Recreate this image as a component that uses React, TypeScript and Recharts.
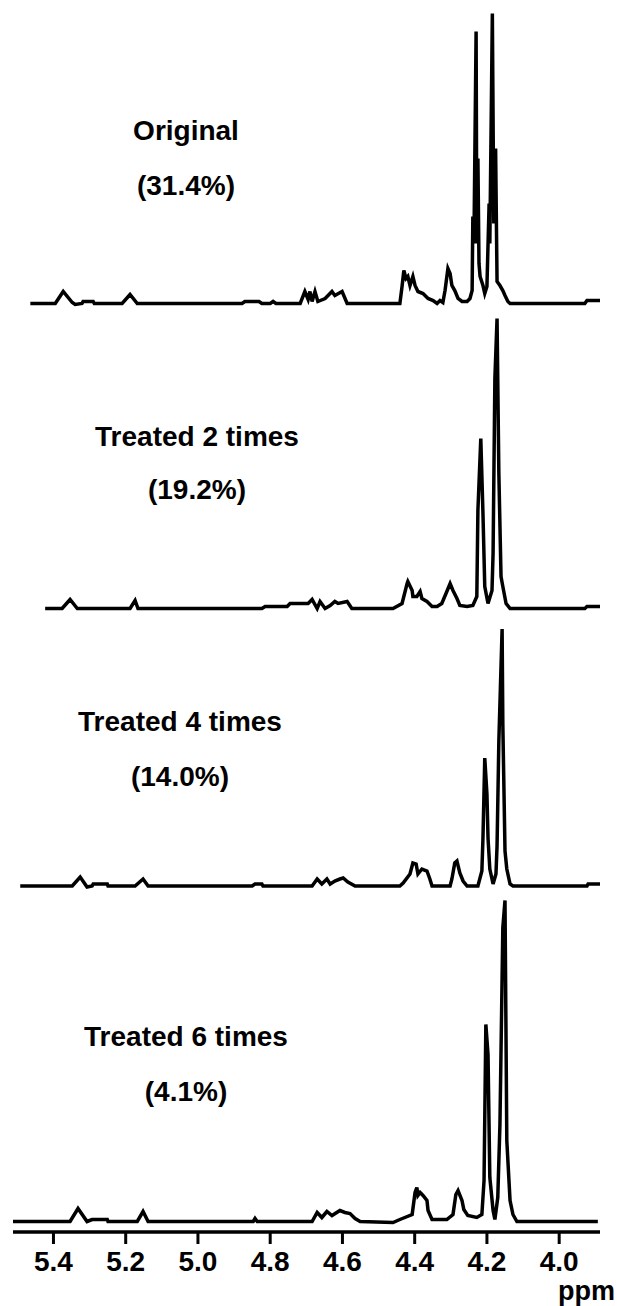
import { LineChart, Line, XAxis, YAxis } from 'recharts'

// chemical shift ticks (ppm), reversed axis like an NMR plot
const ppmTicks = [5.4, 5.2, 5.0, 4.8, 4.6, 4.4, 4.2, 4.0]

const sampleNames = ['Original', 'Treated 2 times', 'Treated 4 times', 'Treated 6 times']
const sampleShares = ['(31.4%)', '(19.2%)', '(14.0%)', '(4.1%)']

// Original
const originalPpm = [5.464, 5.395, 5.373, 5.348, 5.340, 5.321, 5.318, 5.290, 5.287, 5.210, 5.188, 5.168, 4.878, 4.870, 4.831, 4.823, 4.800, 4.792, 4.784, 4.717, 4.704, 4.695, 4.690, 4.684, 4.676, 4.668, 4.648, 4.629, 4.621, 4.601, 4.587, 4.441, 4.435, 4.430, 4.424, 4.419, 4.413, 4.405, 4.399, 4.391, 4.377, 4.363, 4.349, 4.338, 4.330, 4.322, 4.316, 4.308, 4.302, 4.297, 4.289, 4.280, 4.269, 4.255, 4.247, 4.241, 4.239, 4.236, 4.230, 4.228, 4.225, 4.222, 4.219, 4.211, 4.206, 4.200, 4.194, 4.192, 4.185, 4.181, 4.176, 4.172, 4.164, 4.156, 4.150, 4.142, 4.136, 3.929, 3.923, 3.887]
const originalInt = [0, 0, 12, 1, -1, 0, 2, 2, 0, 0, 9, 0, 0, 2, 2, 0, 0, 2, 0, 0, 12, 4, 12, 2, 12, 2, 5, 12, 8, 12, 0, 0, 17, 33, 25, 27, 18, 27, 18, 12, 10, 5, 3, 0, 3, 1, 13, 35, 30, 18, 13, 5, 2, 2, 5, 13, 87, 60, 272, 60, 145, 40, 27, 18, 10, 17, 100, 60, 290, 80, 155, 22, 18, 13, 8, 2, 0, 0, 3, 3]

// Treated 2 times
const treated2Ppm = [5.423, 5.376, 5.354, 5.334, 5.188, 5.174, 5.166, 4.823, 4.814, 4.753, 4.745, 4.695, 4.684, 4.670, 4.662, 4.648, 4.634, 4.621, 4.612, 4.587, 4.574, 4.460, 4.435, 4.421, 4.419, 4.407, 4.405, 4.394, 4.385, 4.380, 4.366, 4.352, 4.338, 4.325, 4.311, 4.302, 4.294, 4.283, 4.275, 4.255, 4.239, 4.228, 4.225, 4.217, 4.211, 4.206, 4.197, 4.186, 4.183, 4.178, 4.172, 4.167, 4.161, 4.156, 4.147, 4.136, 3.929, 3.923, 3.887]
const treated2Int = [0, 0, 9, 0, 0, 8, 0, 0, 2, 2, 5, 5, 9, 0, 7, 0, 3, 7, 5, 7, 0, 0, 5, 25, 27, 18, 12, 12, 17, 10, 7, 2, 2, 5, 17, 25, 18, 10, 3, 2, 3, 12, 98, 170, 95, 22, 5, 18, 55, 230, 290, 135, 32, 22, 5, 0, 0, 2, 2]

// Treated 4 times
const treated4Ppm = [5.492, 5.348, 5.326, 5.307, 5.293, 5.290, 5.251, 5.249, 5.174, 5.152, 5.138, 4.850, 4.842, 4.823, 4.820, 4.684, 4.670, 4.657, 4.643, 4.634, 4.621, 4.607, 4.598, 4.585, 4.565, 4.441, 4.432, 4.413, 4.405, 4.396, 4.391, 4.380, 4.366, 4.358, 4.352, 4.302, 4.297, 4.289, 4.283, 4.275, 4.266, 4.255, 4.225, 4.214, 4.211, 4.206, 4.200, 4.197, 4.192, 4.183, 4.175, 4.172, 4.167, 4.158, 4.156, 4.150, 4.145, 4.136, 4.128, 3.923, 3.920, 3.887]
const treated4Int = [0, 0, 9, -1, 0, 2, 2, 0, 0, 7, 0, 0, 2, 2, 0, 0, 7, 2, 7, 2, 5, 7, 8, 4, 0, 0, 3, 12, 23, 22, 12, 17, 15, 7, 0, 0, 7, 23, 25, 13, 5, 0, 0, 15, 48, 128, 92, 48, 17, 2, 12, 40, 145, 257, 162, 35, 17, 2, 0, 0, 2, 2]

// Treated 6 times
const treated6Ppm = [5.512, 5.354, 5.332, 5.307, 5.293, 5.251, 5.249, 5.168, 5.152, 5.138, 4.847, 4.842, 4.836, 4.684, 4.670, 4.657, 4.643, 4.629, 4.607, 4.593, 4.579, 4.565, 4.551, 4.460, 4.441, 4.407, 4.399, 4.394, 4.391, 4.385, 4.377, 4.366, 4.363, 4.352, 4.311, 4.294, 4.286, 4.280, 4.269, 4.264, 4.253, 4.228, 4.214, 4.208, 4.203, 4.197, 4.192, 4.183, 4.178, 4.170, 4.164, 4.156, 4.150, 4.145, 4.136, 4.128, 4.117, 3.893]
const treated6Int = [0, 0, 13, 0, 2, 2, 0, 0, 10, 0, 0, 3, 0, 0, 9, 4, 10, 6, 11, 9, 8, 3, 0, -1, 2, 7, 29, 34, 26, 29, 26, 21, 11, 2, 2, 7, 27, 31, 21, 12, 6, 4, 7, 41, 197, 167, 44, 11, 2, 24, 97, 294, 321, 81, 21, 7, 0, 0]

// vertical stacking of the spectra (intensity units)
const stackOffsets = [928.5, 623.5, 346, 10.5]
const labelPos = [
  { x: 186, y1: 131, y2: 186 },
  { x: 197, y1: 437, y2: 490 },
  { x: 180, y1: 722, y2: 777 },
  { x: 186, y1: 1037, y2: 1092 },
]

const spectra = [
  [originalPpm, originalInt],
  [treated2Ppm, treated2Int],
  [treated4Ppm, treated4Int],
  [treated6Ppm, treated6Int],
].map(([ppm, int], i) => ppm.map((p, j) => ({ ppm: p, y: int[j] + stackOffsets[i] })))

const font = '"Liberation Sans", Arial, sans-serif'

export default function App() {
  return (
    <div style={{ position: 'absolute', left: 0, top: 0, width: 617, height: 1306, background: '#fff', fontFamily: font }}>
      <LineChart width={617} height={1306} margin={{ top: 0, right: 17, left: 13, bottom: 0 }}>
        <XAxis
          type="number"
          dataKey="ppm"
          domain={[3.887, 5.512]}
          allowDataOverflow
          reversed
          ticks={ppmTicks}
          tickFormatter={(v) => v.toFixed(1)}
          height={74}
          axisLine={{ stroke: '#000', strokeWidth: 3.5 }}
          tickLine={{ stroke: '#000', strokeWidth: 3 }}
          tickSize={12}
          tickMargin={7}
          tick={{ fill: '#000', fontSize: 28, fontWeight: 'bold', fontFamily: font }}
        />
        <YAxis type="number" domain={[0, 1232]} allowDataOverflow hide />
        {spectra.map((d, i) => (
          <Line
            key={i}
            data={d}
            dataKey="y"
            type="linear"
            stroke="#000"
            strokeWidth={3.5}
            dot={false}
            activeDot={false}
            isAnimationActive={false}
          />
        ))}
      </LineChart>
      {sampleNames.map((name, i) => (
        <div key={name}>
          <div style={{ position: 'absolute', left: labelPos[i].x, top: labelPos[i].y1, transform: 'translate(-50%, -50%)', fontSize: 28, fontWeight: 'bold', lineHeight: 1, whiteSpace: 'nowrap', color: '#000' }}>
            {name}
          </div>
          <div style={{ position: 'absolute', left: labelPos[i].x, top: labelPos[i].y2, transform: 'translate(-50%, -50%)', fontSize: 28, fontWeight: 'bold', lineHeight: 1, whiteSpace: 'nowrap', color: '#000' }}>
            {sampleShares[i]}
          </div>
        </div>
      ))}
      <div style={{ position: 'absolute', right: 2, top: 1278, fontSize: 27, fontWeight: 'bold', lineHeight: 1, color: '#000' }}>ppm</div>
    </div>
  )
}
